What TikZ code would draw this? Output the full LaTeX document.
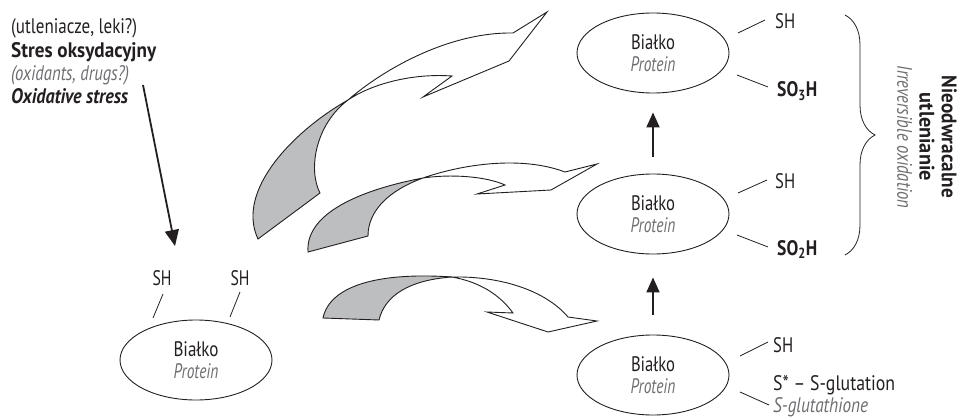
\documentclass[tikz,border=0pt]{standalone}
\usepackage{fontspec}
\setmainfont{PT Sans}[FakeStretch=0.85]
\usetikzlibrary{shapes.geometric,arrows.meta,decorations.pathreplacing}
\definecolor{ink}{HTML}{231F20}
\definecolor{soft}{HTML}{6D6E71}
\definecolor{ribbon}{HTML}{BCBEC0}
\newcommand\fsz{\fontsize{21}{23.3}\selectfont}
\newcommand\tr[1]{{\color{soft}\itshape #1}}
\newlength\fith
\newcommand\fitw[2]{\settoheight\fith{#2}\resizebox{#1}{\fith}{#2}}
\begin{document}
\begin{tikzpicture}[x=1pt,y=-1pt,
  txt/.style={font=\fsz, text=ink, inner sep=0pt},
  prot/.style={ellipse, draw=ink, line width=0.9pt, minimum width=152pt, minimum height=80pt, inner sep=0pt, font=\fsz, text=ink, align=center},
  ribgray/.style={fill=ribbon, draw=ink, line width=0.9pt, line join=miter},
  ribwhite/.style={fill=white, draw=ink, line width=0.9pt, line join=miter},
  bond/.style={draw=ink, line width=0.8pt},
  stressarrow/.style={draw=ink, line width=1.8pt, -{Triangle[length=16pt,width=14pt]}},
  uparrow/.style={draw=ink, line width=2pt, -{Triangle[length=15pt,width=13pt]}},
  bracestyle/.style={draw=ink, line width=0.8pt, decorate, decoration={brace, amplitude=30pt, aspect=0.5}}
]
\useasboundingbox (0,0) rectangle (964,417);

% stress text
\node[txt, anchor=base west] (s1) at (11,34) {\fitw{126pt}{(utleniacze, leki?)}};
\node[txt, anchor=base west] (s2) at (11,57.3) {\fitw{145pt}{\bfseries Stres oksydacyjny}};
\node[txt, anchor=base west] (s3) at (11,80.6) {\fitw{118pt}{\tr{(oxidants, drugs?)}}};
\node[txt, anchor=base west] (s4) at (11,104) {\fitw{117pt}{\bfseries\itshape Oxidative stress}};
\coordinate (a0) at (143,85);
\coordinate (a1) at (175,246);
\draw[stressarrow] (a0) -- (a1);

% ribbon arrow 1 (top)
\draw[ribgray] (348,100) .. controls (295,130) and (235,190) .. (258,239) -- (320,193) .. controls (308,170) and (315,125) .. cycle;
\draw[ribwhite] (348,100) .. controls (385,68) and (450,32) .. (513,33) -- (547,12) -- (509,61) -- (423,97) -- (452,76) .. controls (410,73) and (370,85) .. cycle;

% ribbon arrow 2 (middle)
\draw[ribgray] (423,178) .. controls (370,188) and (305,210) .. (308,252) -- (368,236) .. controls (368,210) and (390,190) .. cycle;
\draw[ribwhite] (423,178) .. controls (460,165) and (520,155) .. (565,172) -- (597,164) -- (551,190) -- (477,194) -- (505,185) .. controls (485,176) and (450,174) .. cycle;

% ribbon arrow 3 (bottom)
\draw[ribgray] (452,277) .. controls (380,272) and (330,285) .. (323,318) -- (379,320) .. controls (385,295) and (410,280) .. cycle;
\draw[ribwhite] (452,277) .. controls (500,276) and (545,290) .. (568,317) -- (597,321) -- (548,332) -- (487,312) -- (513,313) .. controls (500,295) and (480,282) .. cycle;

% proteins
\node[prot] (p0) at (196,360) {\fitw{45pt}{Białko}\\[-1pt]\fitw{45pt}{\tr{Protein}}};
\node[prot] (p1) at (653,375) {\fitw{44pt}{Białko}\\[-1pt]\fitw{45pt}{\tr{Protein}}};
\node[prot] (p2) at (653,214) {\fitw{44pt}{Białko}\\[-1pt]\fitw{45pt}{\tr{Protein}}};
\node[prot] (p3) at (653,53) {\fitw{44pt}{Białko}\\[-1pt]\fitw{45pt}{\tr{Protein}}};

\draw[uparrow, shorten <=20pt, shorten >=23pt] (p1) -- (p2);
\draw[uparrow, shorten <=17pt, shorten >=19pt] (p2) -- (p3);

% bottom-left SH groups
\node[txt, anchor=base] (b1) at (162,285) {\fitw{19pt}{SH}};
\node[txt, anchor=base] (b2) at (240,285) {\fitw{19pt}{SH}};
\coordinate (b1a) at (163,294); \coordinate (b1b) at (153,318);
\coordinate (b2a) at (240,292); \coordinate (b2b) at (230,317);
\draw[bond] (b1a) -- (b1b);
\draw[bond] (b2a) -- (b2b);

% top protein labels
\node[txt, anchor=base west] (t1) at (775,29) {\fitw{20pt}{SH}};
\node[txt, anchor=base west] (t2) at (777,97) {\fitw{40pt}{\bfseries SO\textsubscript{3}H}};
\coordinate (t1a) at (738,33); \coordinate (t1b) at (765,20);
\coordinate (t2a) at (737,75); \coordinate (t2b) at (768,87);
\draw[bond] (t1a) -- (t1b);
\draw[bond] (t2a) -- (t2b);

% middle protein labels
\node[txt, anchor=base west] (m1) at (775,188) {\fitw{20pt}{SH}};
\node[txt, anchor=base west] (m2) at (777,255) {\fitw{40pt}{\bfseries SO\textsubscript{2}H}};
\coordinate (m1a) at (738,193); \coordinate (m1b) at (767,180);
\coordinate (m2a) at (737,235); \coordinate (m2b) at (768,247);
\draw[bond] (m1a) -- (m1b);
\draw[bond] (m2a) -- (m2b);

% bottom protein labels
\node[txt, anchor=base west] (g1) at (773,352) {\fitw{20pt}{SH}};
\node[txt, anchor=base west] (g2) at (773,390) {\fitw{122pt}{S* – S-glutation}};
\node[txt, anchor=base west] (g3) at (773,412) {\fitw{95pt}{\tr{S-glutathione}}};
\coordinate (g1a) at (740,356); \coordinate (g1b) at (768,342);
\coordinate (g2a) at (740,392); \coordinate (g2b) at (769,405);
\draw[bond] (g1a) -- (g1b);
\draw[bond] (g2a) -- (g2b);

% brace and label
\coordinate (br0) at (845,15);
\coordinate (br1) at (845,255);
\draw[bracestyle] (br0) -- (br1);
\node[txt, rotate=-90, align=center] (irr) at (927,137) {\fitw{122pt}{\bfseries Nieodwracalne}\\[-1pt]\fitw{88pt}{\bfseries utlenianie}\\[-1pt]\fitw{143pt}{\tr{Irreversible oxidation}}};
\end{tikzpicture}
\end{document}
